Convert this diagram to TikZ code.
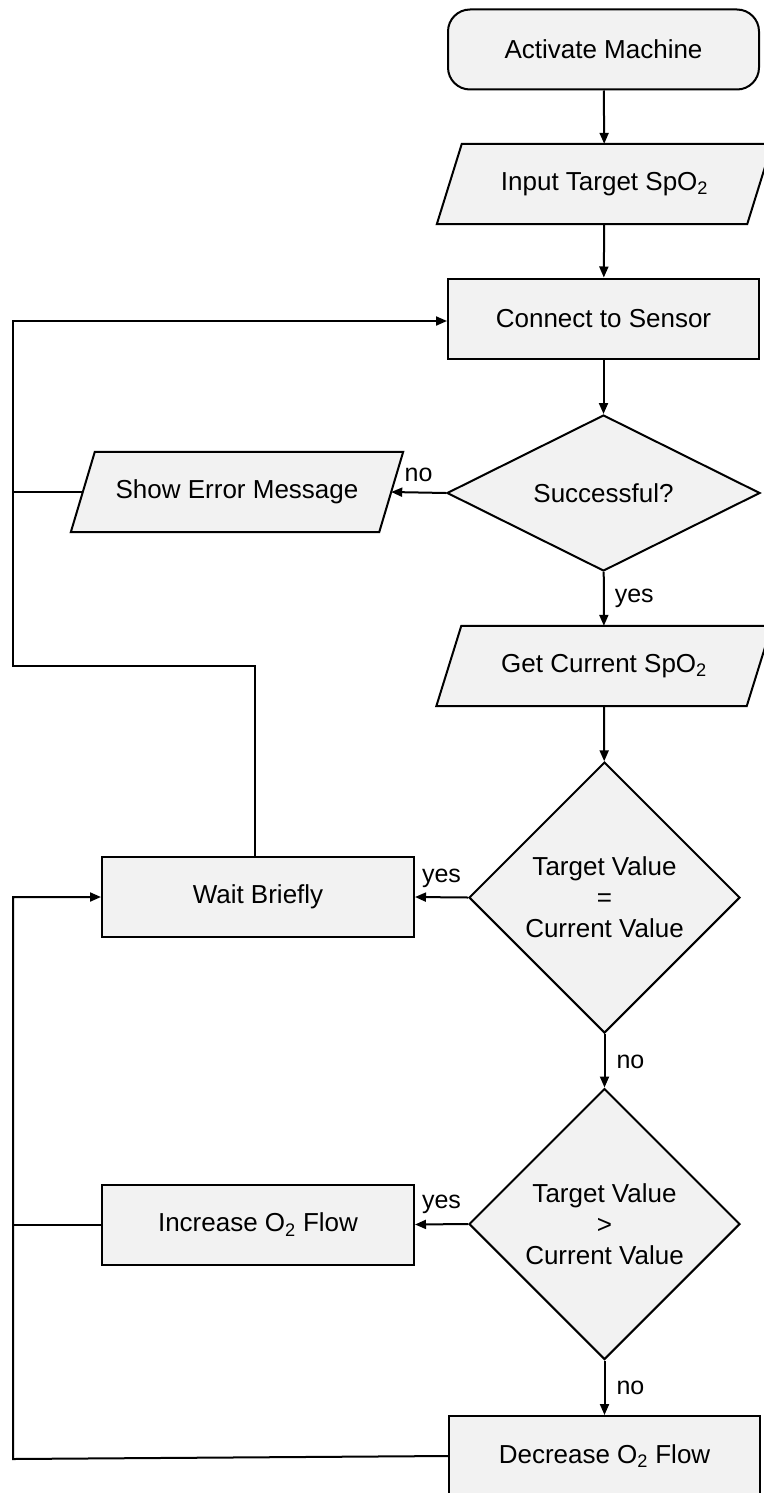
\documentclass[tikz,border=0pt]{standalone}
\usepackage{fontspec}
\setmainfont{Liberation Sans}
\usetikzlibrary{shapes.geometric,arrows.meta,backgrounds}
\definecolor{boxgray}{HTML}{F2F2F2}
\begin{document}
\begin{tikzpicture}[x=1pt,y=-1pt,
  font=\fontsize{26}{31}\selectfont,
  box/.style={draw, line width=2pt, fill=boxgray, minimum width=311pt, minimum height=80pt, inner sep=0pt, align=center},
  startbox/.style={box, rounded corners=22pt},
  iobox/.style={rectangle, minimum width=310pt, minimum height=80pt, inner sep=0pt, align=center},
  dec/.style={diamond, draw, line width=2pt, fill=boxgray, inner sep=0pt, aspect=1, align=center},
  ln/.style={line width=2pt},
  arr/.style={ln, -{Triangle[length=11pt,width=9pt]}},
  lbl/.style={font=\fontsize{25}{30}\selectfont, inner sep=0pt, anchor=base west}
]
\useasboundingbox (0,0) rectangle (763,1493);

% main column
\node[startbox] (act) at (603.5,49.5) {Activate Machine};
\node[iobox] (inp) at (604.5,184) {Input Target SpO\textsubscript{2}};
\node[box] (conn) at (603.5,318.5) {Connect to Sensor};
\node[dec, minimum width=313pt, minimum height=156pt, aspect=2] (succ) at (603.5,493) {Successful?};
\node[iobox] (get) at (604,666) {Get Current SpO\textsubscript{2}};
\node[dec, minimum width=271pt, minimum height=271pt] (eq) at (604.5,897.5) {Target Value\\=\\Current Value};
\node[dec, minimum width=271pt, minimum height=271pt] (gt) at (604.5,1224) {Target Value\\>\\Current Value};
\node[box] (decr) at (604.5,1456) {Decrease O\textsubscript{2} Flow};

% left column
\node[iobox, minimum width=308pt] (err) at (237,492) {Show Error Message};
\node[box, minimum width=312pt] (wait) at (258,897) {Wait Briefly};
\node[box, minimum width=312pt] (inc) at (258,1224.5) {Increase O\textsubscript{2} Flow};

% parallelogram outlines
\begin{scope}[on background layer]
  \foreach \n/\s in {inp/12.5, get/12.5, err/12} {
    \draw[line width=2pt, fill=boxgray]
      ([xshift=\s pt]\n.north west) -- ([xshift=\s pt]\n.north east) --
      ([xshift=-\s pt]\n.south east) -- ([xshift=-\s pt]\n.south west) -- cycle;
  }
\end{scope}

% coordinates for the return lines
\coordinate (tl) at (13,321);
\coordinate (bendA) at (13,666);
\coordinate (bl) at (13,1459);

% main flow
\draw[arr] (act) -- (inp);
\draw[arr] (inp) -- (conn);
\draw[arr] (conn) -- (succ);
\draw[arr] (succ.west) -- (err.east) node[lbl, pos=1, xshift=12.5pt, yshift=11pt] {no};
\draw[arr] (succ) -- (get) node[lbl, pos=0.5, xshift=10pt, yshift=-3.5pt] {yes};
\draw[arr] (get) -- (eq);
\draw[arr] (eq.west) -- (wait.east) node[lbl, pos=1, xshift=6pt, yshift=15pt] {yes};
\draw[arr] (eq) -- (gt) node[lbl, pos=0.5, xshift=11pt, yshift=-7.5pt] {no};
\draw[arr] (gt.west) -- (inc.east) node[lbl, pos=1, xshift=6pt, yshift=16.5pt] {yes};
\draw[arr] (gt) -- (decr) node[lbl, pos=0.5, xshift=11pt, yshift=-7pt] {no};

% upper return loop
\draw[arr] ([xshift=-3pt]wait.north) |- (bendA) -- (tl) -- (tl -| conn.west);
\draw[ln] (err.west) -- (err.west -| tl);

% lower return loop
\draw[arr] (decr.west) -- (bl) -- (bl |- wait.west) -- (wait.west);
\draw[ln] (inc.west) -- (inc.west -| bl);
\end{tikzpicture}
\end{document}
